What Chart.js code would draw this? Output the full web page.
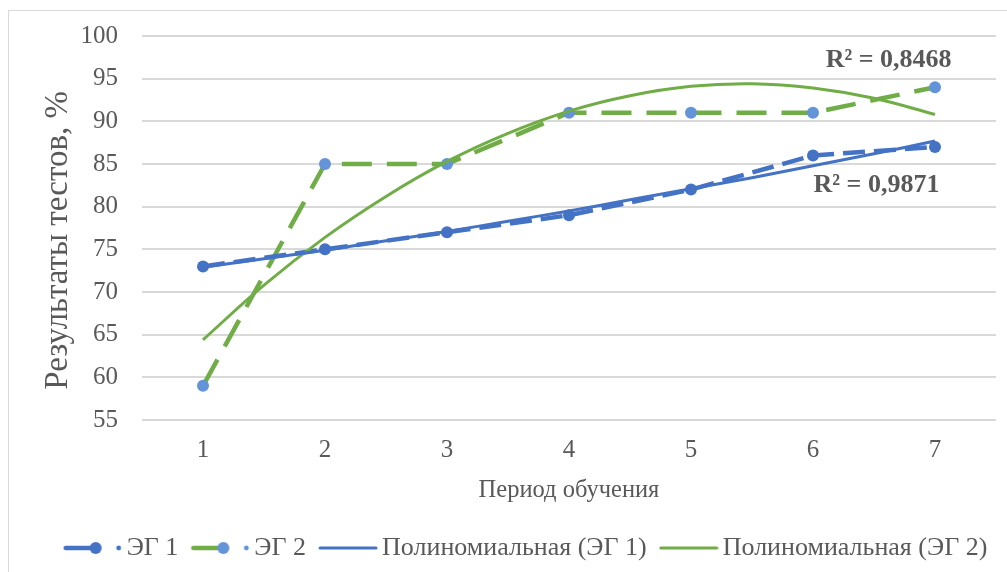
<!DOCTYPE html>
<html>
<head>
<meta charset="utf-8">
<script src="https://cdn.jsdelivr.net/npm/chart.js@4.4.1/dist/chart.umd.min.js"></script>
<style>
    html, body { margin: 0; padding: 0; background: #fff; overflow: hidden; }
    #frame {
        position: absolute;
        left: 8px;
        top: 10px;
        width: 1010px;
        height: 585px;
        border: 1px solid #d9d9d9;
    }
    canvas { display: block; }
</style>
</head>
<body>
<div id="frame"><canvas id="chart" width="1010" height="585"></canvas></div>
<script>
const periods = [1, 2, 3, 4, 5, 6, 7];
const eg1 = [73, 75, 77, 79, 82, 86, 87];
const eg2 = [59, 85, 85, 91, 91, 91, 94];

// trend curves at half-period steps
const trendX = [1, 1.5, 2, 2.5, 3, 3.5, 4, 4.5, 5, 5.5, 6, 6.5, 7];
const trend1 = [72.9, 73.9, 74.9, 76.0, 77.1, 78.3, 79.5, 80.8, 82.1, 83.4, 84.8, 86.2, 87.7];
const trend2 = [64.4, 70.8, 76.4, 81.2, 85.3, 88.6, 91.2, 93.0, 94.1, 94.4, 93.9, 92.7, 90.8];

const yTicks = [55, 60, 65, 70, 75, 80, 85, 90, 95, 100];
const seriesNames = ["ЭГ 1", "ЭГ 2", "Полиномиальная (ЭГ 1)", "Полиномиальная (ЭГ 2)"];
const r2Labels = [
    { text: "R² = 0,8468", x: 6.62, y: 97.2 },
    { text: "R² = 0,9871", x: 6.52, y: 82.5 },
];

const BLUE = "#4472c4";
const LIGHT_BLUE = "#6393d9";
const GREEN = "#70ad47";
const TEXT = "#595959";
const SERIF = "'Liberation Serif', 'Times New Roman', serif";

function pairs(xs, ys) {
    return xs.map((x, i) => ({ x, y: ys[i] }));
}

// legend swatches: dashed line with a marker, or a plain line for trends.
// They are wider than the legend box on purpose, so the swatch sits close to its text.
function legendIcon(lineColor, dotColor, withMarker) {
    const c = document.createElement("canvas");
    c.width = 60;
    c.height = 16;
    const ctx = c.getContext("2d");
    ctx.lineCap = "round";
    if (withMarker) {
        ctx.strokeStyle = lineColor;
        ctx.lineWidth = 4.5;
        ctx.beginPath();
        ctx.moveTo(3, 8);
        ctx.lineTo(36, 8);
        ctx.stroke();
        ctx.fillStyle = dotColor;
        ctx.beginPath();
        ctx.arc(33, 8, 6, 0, Math.PI * 2);
        ctx.fill();
        ctx.beginPath();
        ctx.arc(56, 8, 2.4, 0, Math.PI * 2);
        ctx.fill();
    } else {
        ctx.strokeStyle = lineColor;
        ctx.lineWidth = 3;
        ctx.beginPath();
        ctx.moveTo(2, 8);
        ctx.lineTo(58, 8);
        ctx.stroke();
    }
    return c;
}

const icons = [
    legendIcon(BLUE, BLUE, true),
    legendIcon(GREEN, LIGHT_BLUE, true),
    legendIcon(BLUE, BLUE, false),
    legendIcon(GREEN, GREEN, false),
];

const r2Plugin = {
    id: "r2Labels",
    afterDatasetsDraw(chart) {
        const { ctx, scales } = chart;
        ctx.save();
        ctx.font = `bold 26px ${SERIF}`;
        ctx.fillStyle = TEXT;
        ctx.textAlign = "center";
        ctx.textBaseline = "middle";
        for (const l of r2Labels) {
            ctx.fillText(l.text, scales.x.getPixelForValue(l.x), scales.y.getPixelForValue(l.y));
        }
        ctx.restore();
    },
};

// the original chart is wider than the visible crop, so its legend sits right of our
// centre; the wide item padding also makes the legend box tall, so pull it back up
const legendShift = {
    id: "legendShift",
    afterLayout(chart) {
        chart.legend.left += 27;
        chart.legend.right += 27;
        chart.legend.top -= 15;
        chart.legend.bottom -= 15;
    },
};

new Chart(document.getElementById("chart"), {
    type: "line",
    data: {
        datasets: [
            {
                label: seriesNames[0],
                data: pairs(periods, eg1),
                borderColor: BLUE,
                borderWidth: 4.5,
                borderDash: [22, 9],
                pointRadius: 6,
                pointBackgroundColor: BLUE,
                pointBorderWidth: 0,
                tension: 0,
                order: 1,
            },
            {
                label: seriesNames[1],
                data: pairs(periods, eg2),
                borderColor: GREEN,
                borderWidth: 4.5,
                borderDash: [30, 15],
                pointRadius: 6,
                pointBackgroundColor: LIGHT_BLUE,
                pointBorderWidth: 0,
                tension: 0,
                order: 1,
            },
            {
                label: seriesNames[2],
                data: pairs(trendX, trend1),
                borderColor: BLUE,
                borderWidth: 3,
                pointRadius: 0,
                tension: 0.4,
                order: 0,
            },
            {
                label: seriesNames[3],
                data: pairs(trendX, trend2),
                borderColor: GREEN,
                borderWidth: 3,
                pointRadius: 0,
                tension: 0.4,
                order: 0,
            },
        ],
    },
    options: {
        responsive: false,
        animation: false,
        layout: { padding: { top: 25, right: 23, bottom: 10, left: 0 } },
        plugins: {
            tooltip: { enabled: false },
            legend: {
                position: "bottom",
                labels: {
                    usePointStyle: true,
                    pointStyleWidth: 42,
                    padding: 21,
                    color: TEXT,
                    font: { family: SERIF, size: 26 },
                    generateLabels(chart) {
                        return chart.data.datasets.map((ds, i) => ({
                            text: ds.label,
                            pointStyle: icons[i],
                            fontColor: TEXT,
                            lineWidth: 0,
                            datasetIndex: i,
                        }));
                    },
                },
            },
        },
        scales: {
            x: {
                type: "linear",
                min: 0.5,
                max: 7.5,
                afterBuildTicks(scale) {
                    scale.ticks = periods.map((v) => ({ value: v }));
                },
                afterFit(scale) {
                    scale.height = 109;
                },
                grid: { display: false },
                border: { display: false },
                ticks: {
                    color: TEXT,
                    font: { family: SERIF, size: 25 },
                    padding: 7,
                },
                title: {
                    display: true,
                    text: "Период обучения",
                    color: TEXT,
                    font: { family: SERIF, size: 24.5 },
                    padding: { top: 0, bottom: 24 },
                },
            },
            y: {
                min: 55,
                max: 100,
                afterBuildTicks(scale) {
                    scale.ticks = yTicks.map((v) => ({ value: v }));
                },
                afterFit(scale) {
                    scale.width = 133;
                },
                // invisible tick marks keep the label gap without padding the top of the plot
                grid: { color: "#d9d9d9", lineWidth: 2, drawTicks: true, tickLength: 24, tickColor: "rgba(0,0,0,0)" },
                border: { display: false },
                ticks: {
                    color: TEXT,
                    font: { family: SERIF, size: 25 },
                    padding: 0,
                },
                title: {
                    display: true,
                    text: "Результаты тестов, %   ",
                    color: TEXT,
                    font: { family: SERIF, size: 33 },
                    padding: { top: 30, bottom: 0 },
                },
            },
        },
    },
    plugins: [r2Plugin, legendShift],
});
</script>
</body>
</html>
